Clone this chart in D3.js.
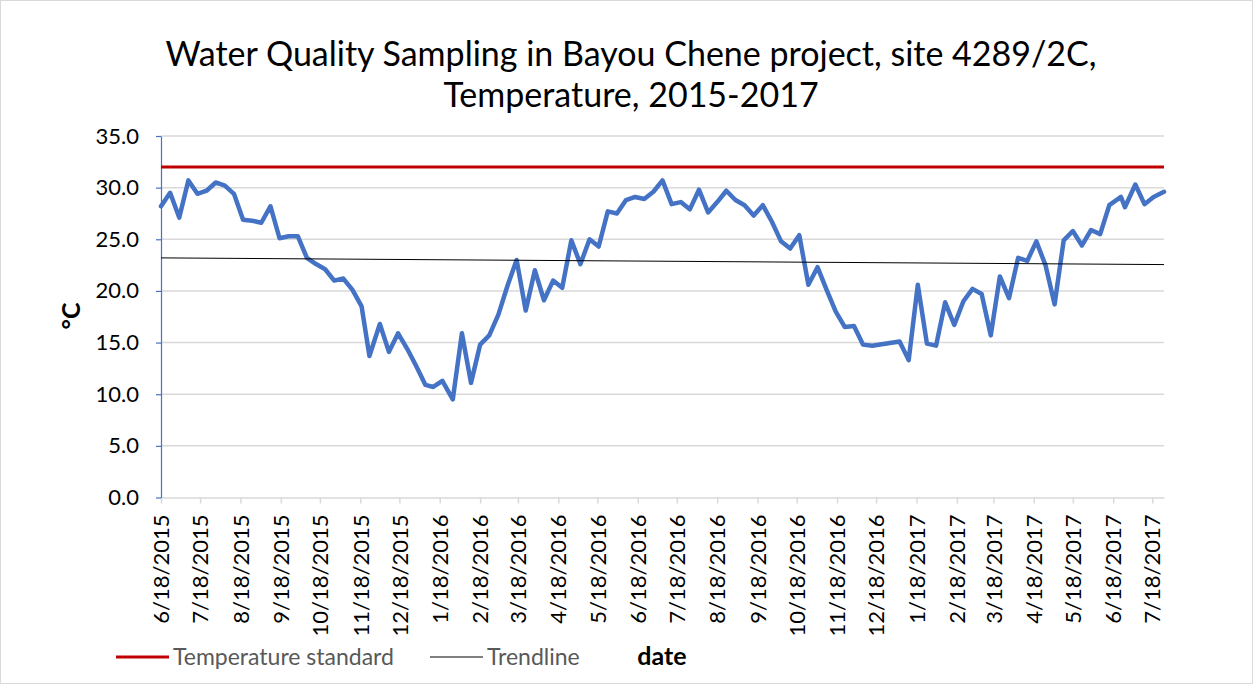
<!DOCTYPE html>
<html>
<head>
<meta charset="utf-8">
<script src="https://cdn.jsdelivr.net/npm/d3@7"></script>
<style>
  body { margin: 0; background: #fff; }
  svg { display: block; font-family: Lato, "Open Sans", sans-serif; }
</style>
</head>
<body>
<svg id="chart" width="1253" height="684"></svg>
<script>
var sampleDates = [
  '6/18/2015','6/25/2015','7/2/2015','7/9/2015','7/16/2015','7/23/2015','7/30/2015','8/6/2015',
  '8/13/2015','8/20/2015','8/27/2015','9/3/2015','9/10/2015','9/17/2015','9/24/2015','10/1/2015',
  '10/8/2015','10/15/2015','10/22/2015','10/29/2015','11/5/2015','11/12/2015','11/19/2015','11/25/2015',
  '12/3/2015','12/10/2015','12/17/2015','12/24/2015','12/31/2015','1/7/2016','1/13/2016','1/20/2016',
  '1/28/2016','2/4/2016','2/11/2016','2/18/2016','2/25/2016','3/3/2016','3/10/2016','3/17/2016',
  '3/24/2016','3/31/2016','4/7/2016','4/14/2016','4/21/2016','4/28/2016','5/5/2016','5/12/2016',
  '5/19/2016','5/26/2016','6/2/2016','6/9/2016','6/16/2016','6/23/2016','6/30/2016','7/7/2016',
  '7/14/2016','7/21/2016','7/28/2016','8/4/2016','8/11/2016','8/18/2016','8/25/2016','9/1/2016',
  '9/8/2016','9/15/2016','9/22/2016','9/29/2016','10/6/2016','10/13/2016','10/20/2016','10/27/2016',
  '11/3/2016','11/10/2016','11/17/2016','11/24/2016','12/1/2016','12/8/2016','12/15/2016','1/5/2017',
  '1/12/2017','1/19/2017','1/26/2017','2/2/2017','2/9/2017','2/16/2017','2/23/2017','3/2/2017',
  '3/9/2017','3/16/2017','3/23/2017','3/30/2017','4/6/2017','4/13/2017','4/20/2017','4/27/2017',
  '5/4/2017','5/11/2017','5/18/2017','5/25/2017','6/1/2017','6/8/2017','6/15/2017','6/24/2017',
  '6/27/2017','7/5/2017','7/12/2017','7/19/2017','7/27/2017'
]

var temperature = [
  28.2, 29.5, 27.1, 30.7, 29.4, 29.7, 30.5, 30.2,
  29.4, 26.9, 26.8, 26.6, 28.2, 25.1, 25.3, 25.3,
  23.2, 22.6, 22.1, 21.0, 21.2, 20.1, 18.5, 13.7,
  16.8, 14.1, 15.9, 14.4, 12.7, 10.9, 10.7, 11.3,
  9.5, 15.9, 11.1, 14.8, 15.7, 17.7, 20.5, 23.0,
  18.1, 22.0, 19.1, 21.0, 20.3, 24.9, 22.6, 25.0,
  24.3, 27.7, 27.5, 28.8, 29.1, 28.9, 29.6, 30.7,
  28.4, 28.6, 27.9, 29.8, 27.6, 28.6, 29.7, 28.8,
  28.3, 27.3, 28.3, 26.7, 24.8, 24.1, 25.4, 20.6,
  22.3, 20.1, 18.0, 16.5, 16.6, 14.8, 14.7, 15.1,
  13.3, 20.6, 14.9, 14.7, 18.9, 16.7, 19.0, 20.2,
  19.7, 15.7, 21.4, 19.3, 23.2, 22.9, 24.8, 22.5,
  18.7, 24.9, 25.8, 24.4, 25.9, 25.5, 28.3, 29.1,
  28.1, 30.3, 28.4, 29.1, 29.6
]

// trendline values at the first and last sample date, as shown on the chart
var trendEnds = [23.2, 22.55]
var standardValue = 32
var yTicks = [0, 5, 10, 15, 20, 25, 30, 35]
var legendItems = [
  {label: 'Temperature standard', color: '#c00000', width: 3},
  {label: 'Trendline', color: '#000', width: 1}
]

var parse = d3.timeParse('%m/%d/%Y'),
    fmt = d3.timeFormat('%-m/%-d/%Y')

var points = sampleDates.map(function(s, i) { return {date: parse(s), value: temperature[i]} })

var svg = d3.select('#chart'),
    pLeft = 161, pRight = 1164, pTop = 136, pBottom = 497.5

var x = d3.scaleTime()
    .domain(d3.extent(points, d => d.date))
    .range([pLeft, pRight])

var y = d3.scaleLinear()
    .domain([0, 35])
    .range([pBottom, pTop])

// border
svg.append('rect')
    .attr('x', 0.5).attr('y', 0.5)
    .attr('width', 1252).attr('height', 683)
    .attr('fill', 'none').attr('stroke', '#d9d9d9')

// title
svg.append('text')
    .attr('x', 631).attr('y', 66)
    .attr('text-anchor', 'middle')
    .attr('font-size', 34).attr('fill', '#000')
    .text('Water Quality Sampling in Bayou Chene project, site 4289/2C,')
svg.append('text')
    .attr('x', 631).attr('y', 107)
    .attr('text-anchor', 'middle')
    .attr('font-size', 34).attr('fill', '#000')
    .text('Temperature, 2015-2017')

// gridlines
svg.append('g').selectAll('line')
    .data(yTicks.filter(d => d > 0))
    .enter().append('line')
    .attr('x1', pLeft).attr('x2', pRight)
    .attr('y1', d => y(d)).attr('y2', d => y(d))
    .attr('stroke', '#d9d9d9').attr('stroke-width', 1.5)

// x axis
var monthTicks = d3.range(0, 26).map(i => d3.timeMonth.offset(points[0].date, i))
var xAxis = svg.append('g')
    .attr('transform', 'translate(0,' + pBottom + ')')
    .call(d3.axisBottom(x).tickValues(monthTicks).tickFormat(fmt).tickSize(6).tickSizeOuter(0))
xAxis.select('.domain').attr('stroke', '#d9d9d9').attr('stroke-width', 1.5)
xAxis.selectAll('.tick line').attr('stroke', '#d9d9d9').attr('stroke-width', 1.5)
xAxis.selectAll('.tick text')
    .attr('font-family', 'Lato, sans-serif')
    .attr('font-size', 22)
    .attr('fill', '#000')
    .attr('text-anchor', 'end')
    .attr('transform', 'rotate(-90)')
    .attr('x', -17).attr('y', 0).attr('dy', '0.35em')

// y axis
var yAxis = svg.append('g')
    .attr('transform', 'translate(' + pLeft + ',0)')
    .call(d3.axisLeft(y).tickValues(yTicks).tickFormat(d3.format('.1f')).tickSize(5).tickSizeOuter(0))
yAxis.select('.domain').attr('stroke', '#4472c4').attr('stroke-width', 1.2)
yAxis.selectAll('.tick line').attr('stroke', '#4472c4').attr('stroke-width', 1.2)
yAxis.selectAll('.tick text')
    .attr('font-family', 'Lato, sans-serif')
    .attr('font-size', 22)
    .attr('fill', '#000')
    .attr('x', -22)

// temperature standard
svg.append('line')
    .attr('x1', pLeft).attr('x2', pRight)
    .attr('y1', y(standardValue)).attr('y2', y(standardValue))
    .attr('stroke', '#c00000').attr('stroke-width', 3)

// data series
svg.append('path')
    .datum(points)
    .attr('fill', 'none')
    .attr('stroke', '#4472c4')
    .attr('stroke-width', 4.5)
    .attr('stroke-linejoin', 'round')
    .attr('stroke-linecap', 'round')
    .attr('d', d3.line().x(d => x(d.date)).y(d => y(d.value)))

// trendline
var ends = x.domain()
svg.append('line')
    .attr('x1', x(ends[0])).attr('x2', x(ends[1]))
    .attr('y1', y(trendEnds[0])).attr('y2', y(trendEnds[1]))
    .attr('stroke', '#000').attr('stroke-width', 1)

// axis titles
svg.append('text')
    .attr('transform', 'translate(80,316) rotate(-90)')
    .attr('text-anchor', 'middle')
    .attr('font-size', 25).attr('font-weight', 'bold')
    .text('°C')
svg.append('text')
    .attr('x', 662).attr('y', 665)
    .attr('text-anchor', 'middle')
    .attr('font-size', 25).attr('font-weight', 'bold')
    .text('date')

// legend
var lx = [116, 430]
var lg = svg.selectAll('.legend')
    .data(legendItems)
    .enter().append('g')
    .attr('class', 'legend')
    .attr('transform', (d, i) => 'translate(' + lx[i] + ',657)')
lg.append('line')
    .attr('x1', 0).attr('x2', 53)
    .attr('stroke', d => d.color).attr('stroke-width', d => d.width)
lg.append('text')
    .attr('x', 57).attr('y', 8)
    .attr('font-size', 23).attr('fill', '#595959')
    .text(d => d.label)
</script>
</body>
</html>
